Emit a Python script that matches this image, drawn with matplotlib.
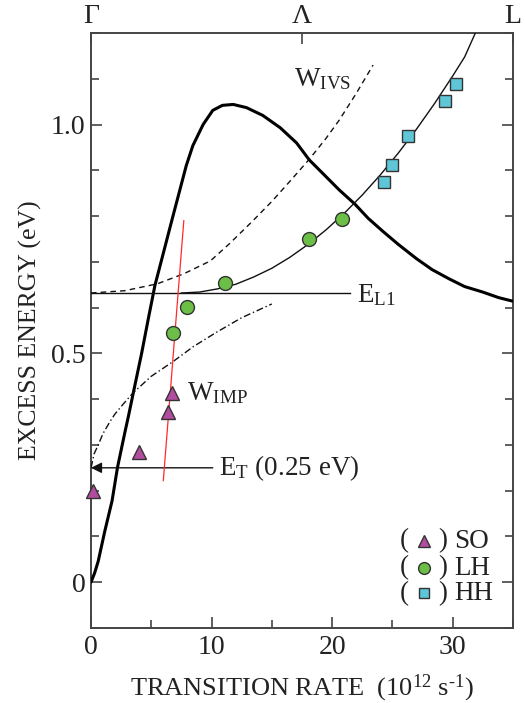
import matplotlib
matplotlib.use("Agg")
import matplotlib.pyplot as plt
from matplotlib.ticker import MultipleLocator

plt.rcParams['font.family'] = ['Liberation Serif', 'DejaVu Serif']
plt.rcParams['mathtext.fontset'] = 'custom'
plt.rcParams['mathtext.rm'] = 'Liberation Serif'
plt.rcParams['mathtext.it'] = 'Liberation Serif:italic'

# ---- data ----
# thick curve (transition rate vs energy)
thick_x = [0.0, 0.3, 0.6, 1.15, 1.75, 2.2, 2.8, 3.1, 3.6, 4.2, 4.75, 5.3, 6.1, 6.7, 7.37,
           7.9, 8.45, 9.3, 10.1, 10.9, 11.8, 12.9, 14.25, 15.7, 17.05, 18.1, 19.2, 20.6,
           21.9, 23.0, 24.2, 25.5, 27.0, 28.3, 29.7, 31.0, 32.5, 33.8, 35.0]
thick_y = [0.0, 0.02, 0.046, 0.112, 0.178, 0.251, 0.326, 0.362, 0.425, 0.50, 0.575, 0.648,
           0.729, 0.790, 0.857, 0.910, 0.954, 1.000, 1.031, 1.042, 1.044, 1.037, 1.020,
           0.993, 0.960, 0.923, 0.894, 0.857, 0.826, 0.795, 0.767, 0.738, 0.707, 0.683,
           0.663, 0.646, 0.634, 0.622, 0.614]

# thin solid fit through LH/HH points
fit_x = [7.5, 9.0, 10.5, 12.0, 13.5, 15.0, 16.5, 18.0, 19.5, 21.0, 22.5, 24.0, 25.5,
         27.0, 28.5, 30.0, 31.0, 32.0]
fit_y = [0.632, 0.634, 0.641, 0.651, 0.667, 0.686, 0.710, 0.738, 0.770, 0.806, 0.846,
         0.890, 0.938, 0.990, 1.046, 1.106, 1.148, 1.207]

# W_IVS dashed curve
ivs_x = [0.0, 2.8, 5.5, 7.7, 9.9, 11.5, 13.4, 15.0, 16.5, 18.1, 19.5, 20.6, 22.0, 23.4]
ivs_y = [0.632, 0.637, 0.652, 0.674, 0.702, 0.740, 0.789, 0.832, 0.876, 0.924, 0.970,
         1.010, 1.068, 1.130]

# W_IMP dash-dot curve
imp_x = [0.0, 0.05, 0.25, 0.6, 1.0, 1.6, 2.0, 2.7, 3.5, 5.0, 6.8, 8.5, 10.4, 12.5, 15.0]
imp_y = [0.250, 0.255, 0.280, 0.300, 0.325, 0.352, 0.368, 0.390, 0.414, 0.450, 0.482,
         0.515, 0.546, 0.578, 0.608]

# red guide line
red_x = [6.0, 7.7]
red_y = [0.222, 0.79]

# E_L1 level and E_T threshold
EL1 = 0.632
EL1_xmax = 21.5
ET = 0.25
ET_xstart = 10.1

so_x = [0.2, 4.0, 6.4, 6.7]
so_y = [0.20, 0.285, 0.372, 0.414]
lh_x = [6.8, 8.0, 11.1, 18.1, 20.8]
lh_y = [0.544, 0.601, 0.654, 0.749, 0.793]
hh_x = [24.3, 25.0, 26.3, 29.4, 30.3]
hh_y = [0.874, 0.912, 0.974, 1.051, 1.088]

top_ticks = [0, 17.5, 35]
top_labels = ['Γ', 'Λ', 'L']

# ---- figure ----
fig = plt.figure(figsize=(5.25, 7.03), dpi=100)
ax = fig.add_axes([0.1733, 0.1067, 0.8037, 0.8463])

c_so = '#b24c9f'
c_lh = '#6cbf46'
c_hh = '#5ec6d6'
edge = '#333333'
txt = '#222222'

ax.plot(thick_x, thick_y, color='black', lw=2.2, solid_capstyle='round',
        solid_joinstyle='round', zorder=3)
ax.plot(fit_x, fit_y, color='#111111', lw=1.0, zorder=3)
ax.plot(ivs_x, ivs_y, color='#111111', lw=1.0, ls=(0, (4, 3)), zorder=3)
ax.plot(imp_x, imp_y, color='#111111', lw=1.0, ls=(0, (5, 2, 1, 2)), zorder=3)
ax.plot(red_x, red_y, color='#ff2a2a', lw=0.9, zorder=4)
ax.plot([0, EL1_xmax], [EL1, EL1], color='#111111', lw=1.0, zorder=3)
ax.annotate('', xy=(0, ET), xytext=(ET_xstart, ET),
            arrowprops=dict(arrowstyle='-|>', color='#111111', lw=1.0,
                            mutation_scale=16, shrinkA=0, shrinkB=0), zorder=3)

ax.plot(so_x, so_y, ls='none', marker='^', ms=10, mfc=c_so, mec=edge, mew=1.0, zorder=5, clip_on=False)
ax.plot(lh_x, lh_y, ls='none', marker='o', ms=10, mfc=c_lh, mec=edge, mew=1.0, zorder=5)
ax.plot(hh_x, hh_y, ls='none', marker='s', ms=8.3, mfc=c_hh, mec=edge, mew=1.0, zorder=5)

fs = 19.5
ax.text(16.8, 1.10, r'W$_{\rm IVS}$', fontsize=fs, color=txt, va='center', ha='left')
ax.text(8.0, 0.414, r'W$_{\rm IMP}$', fontsize=fs, color=txt, va='center', ha='left')
ax.text(22.1, 0.627, r'E$_{\rm L1}$', fontsize=fs, color=txt, va='center', ha='left')
ax.text(10.6, 0.25, r'E$_{\rm T}$ (0.25 eV)', fontsize=fs, color=txt, va='center', ha='left')

# legend made of text and markers
leg_y = [0.09, 0.031, -0.024]
leg_m = ['^', 'o', 's']
leg_c = [c_so, c_lh, c_hh]
leg_s = [9, 8.5, 7]
leg_t = ['SO', 'LH', 'HH']
for yy, m, c, s, t in zip(leg_y, leg_m, leg_c, leg_s, leg_t):
    ax.text(26.0, yy, '(', fontsize=fs, color=txt, va='center', ha='center')
    ax.plot([27.6], [yy], ls='none', marker=m, ms=s, mfc=c, mec=edge, mew=1.0, zorder=5)
    ax.text(29.2, yy, ')', fontsize=fs, color=txt, va='center', ha='center')
    ax.text(30.1, yy, t, fontsize=fs, color=txt, va='center', ha='left')

ax.set_xlim(0, 35)
ax.set_ylim(-0.1, 1.2)
ax.xaxis.set_major_locator(MultipleLocator(10))
ax.xaxis.set_minor_locator(MultipleLocator(5))
ax.yaxis.set_minor_locator(MultipleLocator(0.1))
ax.set_yticks([0, 0.5, 1.0])
ax.set_yticklabels(['0', '0.5', '1.0'])
ax.tick_params(which='both', direction='in', colors='#444444', labelcolor=txt,
               labelsize=20, width=1.2, right=True, top=False)
ax.tick_params(which='major', length=8)
ax.tick_params(which='minor', length=6)
ax.tick_params(axis='x', pad=5)
ax.tick_params(axis='y', pad=4)
for sp in ax.spines.values():
    sp.set_color('#444444')
    sp.set_linewidth(1.4)

ax.set_xlabel(r'TRANSITION RATE  (10$^{12}$ s$^{\text{-1}}$)', fontsize=19, color=txt, labelpad=9)
ax.set_ylabel('EXCESS ENERGY (eV)', fontsize=18.5, color=txt, labelpad=6)

ax2 = ax.twiny()
ax2.set_xlim(ax.get_xlim())
ax2.set_xticks(top_ticks)
ax2.set_xticklabels(top_labels)
ax2.tick_params(direction='in', length=8, width=1.2, colors='#444444', labelcolor=txt,
                labelsize=20, pad=3)
for sp in ax2.spines.values():
    sp.set_visible(False)

fig.savefig('out.png', dpi=100)
